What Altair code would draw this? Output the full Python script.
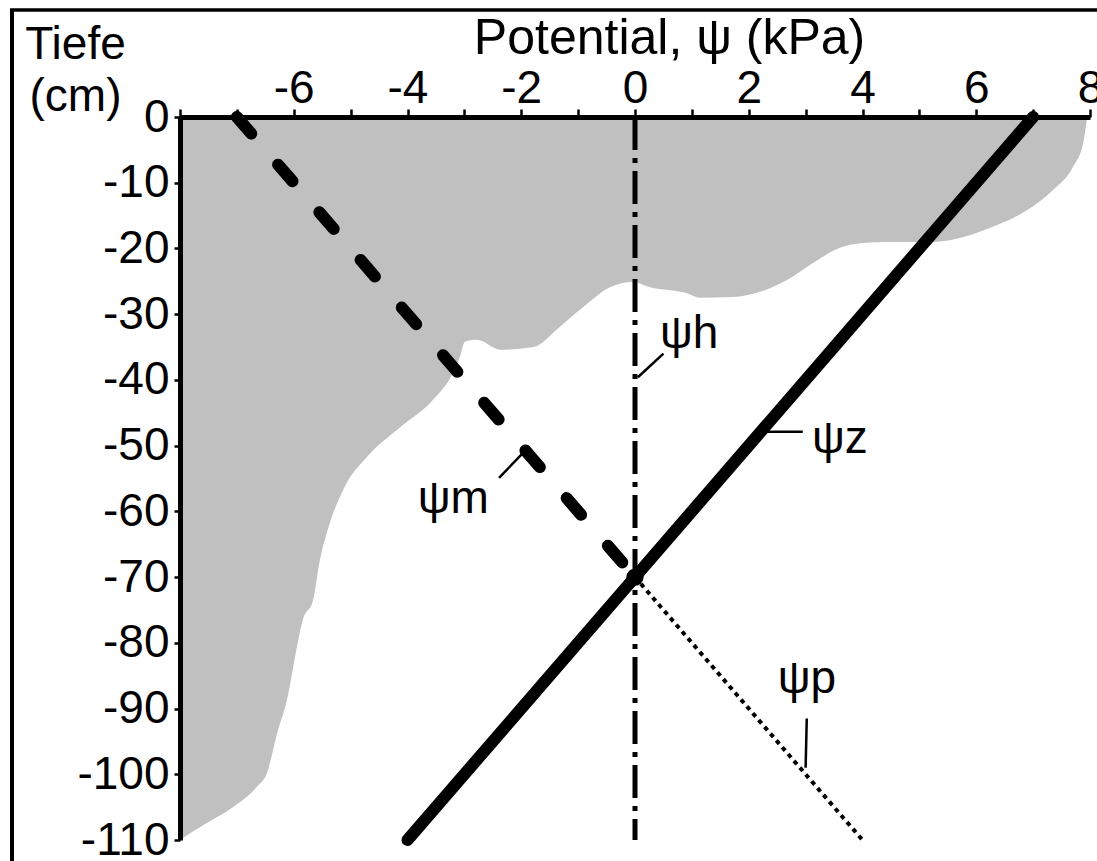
import altair as alt
import pandas as pd

FONT = "Liberation Sans, Arial, sans-serif"

# axis ticks
x_ticks = list(range(-8, 9))
depth_ticks = list(range(0, -111, -10))

# grey (wet) region boundary
shade_x = [-8.0, -7.95, -7.53, -7.07, -6.65, -6.47, -6.29, -6.12, -5.93, -5.84, -5.66, -5.54,
           -5.42, -5.13, -4.71, -4.13, -3.55, -3.2, -3.08, -2.99, -2.78, -2.37, -1.79, -1.32,
           -0.91, -0.44, -0.04, 0.26, 0.91, 1.14, 1.72, 2.2, 2.67, 3.13, 3.6, 3.96, 4.43,
           5.24, 5.71, 6.29, 6.89, 7.35, 7.7, 7.88, 7.95]
shade_y = [-110, -109.7, -107.4, -105, -101.9, -99.8, -93.7, -88.7, -80, -76.5, -73.5, -67.4,
           -63.3, -56.7, -51.7, -47.2, -43, -38.9, -36.5, -34.2, -33.9, -35.4, -35.0, -31.9,
           -28.9, -25.9, -25.1, -25.9, -26.8, -27.5, -27.4, -26.6, -24.8, -22.2, -19.9, -19.2,
           -19.0, -19.0, -18.4, -16.7, -14.2, -11.1, -7.6, -3.96, 0]

# potential lines (kPa vs depth cm)
psi_z_x = [7, -4]
psi_z_y = [0, -110]
psi_m_x = [-7, 0]
psi_m_y = [0, -70]
psi_h_x = [0, 0]
psi_h_y = [0, -110]
psi_p_x = [0, 4]
psi_p_y = [-70, -110]

# reference point
cross_x = [0]
cross_y = [-70]

# labels and leader lines
label_text = ["ψh", "ψz", "ψm", "ψp"]
label_x = [0.44, 3.11, -3.82, 2.51]
label_y = [-35.1, -51.1, -60.2, -87.6]
leader_x = [0.05, 2.32, -2.39, 3.02]
leader_y = [-39.6, -47.9, -54.9, -91.5]
leader_x2 = [0.5, 2.95, -1.99, 3.0]
leader_y2 = [-36.0, -47.9, -51.3, -99.0]

xscale = alt.Scale(domain=[-8, 8], nice=False, zero=False)
yscale = alt.Scale(domain=[-110, 0], nice=False, zero=False)

x_axis = alt.Axis(
    orient="top", values=x_ticks,
    labelExpr="(datum.value % 2 == 0 && datum.value > -8) ? ('' + datum.value) : ''",
    title="Potential, ψ (kPa)", titleFont=FONT, titleFontSize=50, titleFontWeight="normal",
    titleColor="black", titleX=489, titleY=-64, titleBaseline="alphabetic", titleAlign="center",
    labelFont=FONT, labelFontSize=46, labelColor="black", labelPadding=7,
    labelBaseline="alphabetic",
    domainColor="black", domainWidth=5, tickColor="black", tickWidth=2.5, tickSize=8,
    grid=False, zindex=2, labelFlush=False, labelOverlap=False)

y_axis = alt.Axis(
    orient="left", values=depth_ticks,
    labelExpr="'' + datum.value",
    title=["Tiefe", "(cm)"], titleFont=FONT, titleFontSize=46, titleFontWeight="normal",
    titleColor="black", titleAngle=0, titleAlign="center", titleBaseline="alphabetic",
    titleX=-105, titleY=-59, titleLineHeight=52,
    labelFont=FONT, labelFontSize=46, labelColor="black", labelPadding=5,
    labelBaseline="middle",
    domainColor="black", domainWidth=5, tickColor="black", tickWidth=2.5, tickSize=6,
    grid=False, zindex=2, labelFlush=False, labelOverlap=False)


def X():
    return alt.X("x:Q", scale=xscale, axis=x_axis)


def Y():
    return alt.Y("y:Q", scale=yscale, axis=y_axis)


shade = alt.Chart(pd.DataFrame({"x": shade_x, "y": shade_y})).mark_area(
    color="#c0c0c0", interpolate="monotone", opacity=1
).encode(x=X(), y=Y(), y2=alt.datum(0))


def line_layer(xs, ys, **kw):
    return alt.Chart(pd.DataFrame({"x": xs, "y": ys})).mark_line(color="black", **kw).encode(
        x=X(), y=Y())


line_z = line_layer(psi_z_x, psi_z_y, strokeWidth=12, strokeCap="round")
line_m = line_layer(psi_m_x, psi_m_y, strokeWidth=12, strokeCap="round", strokeDash=[22, 41])
line_h = line_layer(psi_h_x, psi_h_y, strokeWidth=5, strokeDash=[33, 8, 5, 8])
line_p = line_layer(psi_p_x, psi_p_y, strokeWidth=4, strokeDash=[4.5, 4.5])

cross = alt.Chart(pd.DataFrame({"x": cross_x, "y": cross_y})).mark_point(
    shape="circle", filled=True, color="black", size=300, opacity=1
).encode(x=X(), y=Y())

leaders = alt.Chart(pd.DataFrame({"x": leader_x, "y": leader_y, "x2": leader_x2, "y2": leader_y2})).mark_rule(
    color="black", strokeWidth=2.5
).encode(x=X(), y=Y(), x2="x2:Q", y2="y2:Q")

labels = alt.Chart(pd.DataFrame({"x": label_x, "y": label_y, "t": label_text})).mark_text(
    font=FONT, fontSize=46, color="black", align="left", baseline="alphabetic"
).encode(x=X(), y=Y(), text="t:N")

# picture frame (top and left edges of the original figure)
frame_top = alt.Chart(pd.DataFrame({"a": [0]})).mark_rule(color="black", strokeWidth=3.5).encode(
    x=alt.value(-170), x2=alt.value(930), y=alt.value(-107))
frame_left = alt.Chart(pd.DataFrame({"a": [0]})).mark_rule(color="black", strokeWidth=4).encode(
    x=alt.value(-168), y=alt.value(-108), y2=alt.value(750))

chart = alt.layer(
    shade, line_h, line_p, line_m, line_z, cross, leaders, labels, frame_top, frame_left
).properties(
    width=910, height=723,
    autosize=alt.AutoSizeParams(type="none"),
    padding={"left": 180, "top": 117, "right": 7, "bottom": 21},
    background="white",
).configure_view(stroke=None)

chart.save("out.html", embed_options={"renderer": "svg", "actions": False})
